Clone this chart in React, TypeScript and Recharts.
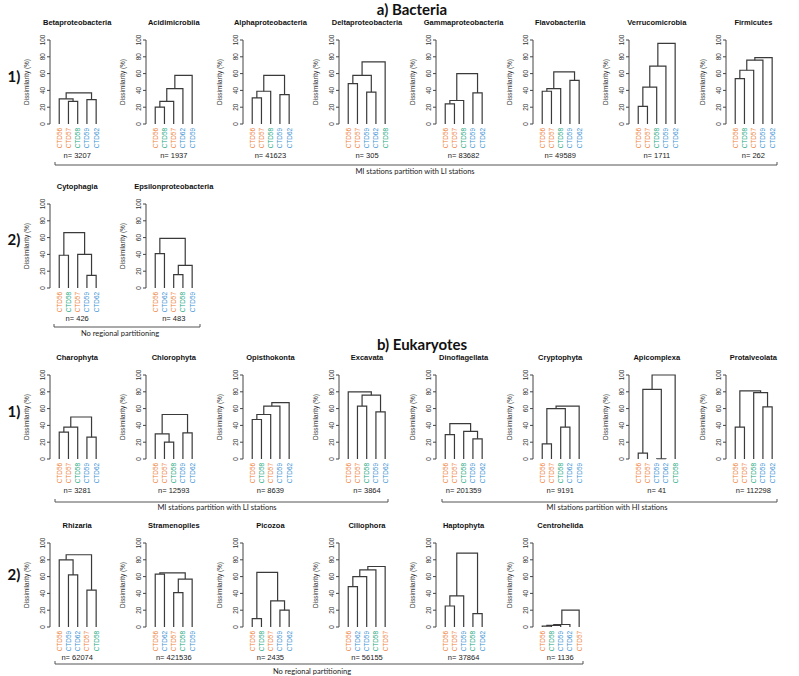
import React from "react";
import { LineChart, Line, XAxis, YAxis, Label } from "recharts";

// panel data, in reading order (bacteria row 1, row 2, eukaryotes row 1, row 2)
const panelTitles = [
  "Betaproteobacteria", "Acidimicrobiia", "Alphaproteobacteria", "Deltaproteobacteria",
  "Gammaproteobacteria", "Flavobacteriia", "Verrucomicrobia", "Firmicutes",
  "Cytophagia", "Epsilonproteobacteria",
  "Charophyta", "Chlorophyta", "Opisthokonta", "Excavata",
  "Dinoflagellata", "Cryptophyta", "Apicomplexa", "Protalveolata",
  "Rhizaria", "Stramenopiles", "Picozoa", "Ciliophora", "Haptophyta", "Centrohelida",
];

const panelCounts = [
  3207, 1937, 41623, 305, 83682, 49589, 1711, 262,
  426, 483,
  3281, 12593, 8639, 3864, 201359, 9191, 41, 112298,
  62074, 421536, 2435, 56155, 37864, 1136,
];

// leaf order, left to right
const panelLeaves = [
  ["CTD56", "CTD57", "CTD58", "CTD59", "CTD62"],
  ["CTD56", "CTD58", "CTD57", "CTD62", "CTD59"],
  ["CTD56", "CTD57", "CTD58", "CTD59", "CTD62"],
  ["CTD56", "CTD57", "CTD59", "CTD62", "CTD58"],
  ["CTD56", "CTD57", "CTD58", "CTD59", "CTD62"],
  ["CTD56", "CTD57", "CTD58", "CTD59", "CTD62"],
  ["CTD56", "CTD57", "CTD58", "CTD59", "CTD62"],
  ["CTD56", "CTD58", "CTD57", "CTD59", "CTD62"],
  ["CTD56", "CTD58", "CTD57", "CTD59", "CTD62"],
  ["CTD56", "CTD62", "CTD57", "CTD58", "CTD59"],
  ["CTD56", "CTD57", "CTD58", "CTD59", "CTD62"],
  ["CTD56", "CTD57", "CTD58", "CTD59", "CTD62"],
  ["CTD56", "CTD58", "CTD57", "CTD59", "CTD62"],
  ["CTD56", "CTD57", "CTD58", "CTD59", "CTD62"],
  ["CTD56", "CTD57", "CTD58", "CTD59", "CTD62"],
  ["CTD56", "CTD57", "CTD58", "CTD62", "CTD59"],
  ["CTD56", "CTD57", "CTD59", "CTD62", "CTD58"],
  ["CTD56", "CTD57", "CTD58", "CTD59", "CTD62"],
  ["CTD56", "CTD59", "CTD62", "CTD57", "CTD58"],
  ["CTD56", "CTD62", "CTD57", "CTD58", "CTD59"],
  ["CTD56", "CTD58", "CTD57", "CTD59", "CTD62"],
  ["CTD56", "CTD62", "CTD59", "CTD58", "CTD57"],
  ["CTD56", "CTD57", "CTD59", "CTD58", "CTD62"],
  ["CTD56", "CTD58", "CTD59", "CTD62", "CTD57"],
];

// hclust-style merges: [left, right, height]; negative = leaf position, positive = earlier merge
const panelMerges = [
  [[-2, -3, 27], [-1, 1, 30], [-4, -5, 29], [2, 3, 37]],
  [[-1, -2, 20], [1, -3, 27], [2, -4, 42], [3, -5, 58]],
  [[-1, -2, 31], [1, -3, 39], [-4, -5, 35], [2, 3, 58]],
  [[-1, -2, 48], [-3, -4, 38], [1, 2, 58], [3, -5, 74]],
  [[-1, -2, 24], [1, -3, 28], [-4, -5, 37], [2, 3, 60]],
  [[-1, -2, 39], [1, -3, 42], [-4, -5, 52], [2, 3, 62]],
  [[-1, -2, 21], [1, -3, 44], [2, -4, 69], [3, -5, 96]],
  [[-1, -2, 54], [1, -3, 64], [2, -4, 76], [3, -5, 79]],
  [[-1, -2, 39], [-4, -5, 15], [-3, 2, 40], [1, 3, 66]],
  [[-1, -2, 41], [-3, -4, 16], [2, -5, 27], [1, 3, 59]],
  [[-1, -2, 32], [1, -3, 38], [-4, -5, 26], [2, 3, 50]],
  [[-2, -3, 20], [-1, 1, 30], [-4, -5, 31], [2, 3, 53]],
  [[-1, -2, 47], [1, -3, 53], [2, -4, 63], [3, -5, 67]],
  [[-2, -3, 63], [-4, -5, 56], [1, 2, 76], [-1, 3, 80]],
  [[-1, -2, 29], [-4, -5, 24], [-3, 2, 33], [1, 3, 42]],
  [[-1, -2, 18], [-3, -4, 38], [1, 2, 60], [3, -5, 63]],
  [[-1, -2, 7], [-3, -4, 0.3], [1, 2, 83], [3, -5, 100]],
  [[-1, -2, 38], [-4, -5, 62], [-3, 2, 79], [1, 3, 81]],
  [[-2, -3, 62], [-1, 1, 80], [-4, -5, 44], [2, 3, 86]],
  [[-1, -2, 63], [-3, -4, 41], [2, -5, 57], [1, 3, 64.5]],
  [[-1, -2, 10], [-4, -5, 20], [-3, 2, 31], [1, 3, 65]],
  [[-1, -2, 48], [1, -3, 60], [2, -4, 68], [3, -5, 72]],
  [[-1, -2, 25], [1, -3, 37], [-4, -5, 16], [2, 3, 88]],
  [[-1, -2, 1], [1, -3, 2], [2, -4, 3], [3, -5, 20]],
];

const yTicks = [0, 20, 40, 60, 80, 100];
const leafTicks = [1, 2, 3, 4, 5];

const STATION_COLORS: Record<string, string> = {
  CTD56: "#f07f3a",
  CTD57: "#f07f3a",
  CTD58: "#22a880",
  CTD59: "#3a92d4",
  CTD62: "#3a92d4",
};

// layout
const PANEL_ROW = [0, 0, 0, 0, 0, 0, 0, 0, 1, 1, 2, 2, 2, 2, 2, 2, 2, 2, 3, 3, 3, 3, 3, 3];
const PANEL_COL = [0, 1, 2, 3, 4, 5, 6, 7, 0, 1, 0, 1, 2, 3, 4, 5, 6, 7, 0, 1, 2, 3, 4, 5];
const ROW_TOP = [40, 203.5, 375, 542.5]; // y of the 100 tick
const COL_X0 = 49.5;
const COL_PITCH = 96.6;
const PLOT_H = 84;
const PLOT_W = 48;
const AXIS_W = 40;
const MARGIN_TOP = 6;
const MARGIN_RIGHT = 8;
const LEAF_STEP = PLOT_W / 5.2;

const SANS = "'Liberation Sans', Arial, sans-serif";
const CAL = "Lato, 'Liberation Sans', sans-serif";
const INK = "#3a3a3a";

function buildSegments(merges: number[][]) {
  const mx: number[] = [];
  const mh: number[] = [];
  const pos = (ref: number) =>
    ref < 0 ? { x: -ref, y: 0 } : { x: mx[ref - 1], y: mh[ref - 1] };
  return merges.map(([a, b, h]) => {
    const l = pos(a);
    const r = pos(b);
    mx.push((l.x + r.x) / 2);
    mh.push(h);
    return [
      { x: l.x, y: l.y },
      { x: l.x, y: h },
      { x: r.x, y: h },
      { x: r.x, y: r.y },
    ];
  });
}

function Dendrogram({ idx }: { idx: number }) {
  const axisX = COL_X0 + PANEL_COL[idx] * COL_PITCH;
  const top = ROW_TOP[PANEL_ROW[idx]];
  const leaves = panelLeaves[idx];
  const segments = buildSegments(panelMerges[idx]);

  const leafTick = (props: any) => {
    const { x, y, payload } = props;
    const name = leaves[Math.round(payload.value) - 1];
    const tx = x + 2.4;
    return (
      <text
        x={tx}
        y={y}
        transform={`rotate(-90 ${tx} ${y})`}
        textAnchor="end"
        fontSize={6.4}
        fontFamily={SANS}
        fill={STATION_COLORS[name]}
      >
        {name}
      </text>
    );
  };

  const yTick = (props: any) => {
    const { x, y, payload } = props;
    return (
      <text
        x={x}
        y={y}
        transform={`rotate(-90 ${x} ${y})`}
        textAnchor="middle"
        fontSize={6.4}
        fontFamily={SANS}
        fill="#333"
      >
        {payload.value}
      </text>
    );
  };

  return (
    <div style={{ position: "absolute", left: axisX - AXIS_W, top: top - MARGIN_TOP }}>
      <LineChart
        width={AXIS_W + PLOT_W + MARGIN_RIGHT}
        height={MARGIN_TOP + PLOT_H + 30}
        margin={{ top: MARGIN_TOP, right: MARGIN_RIGHT, bottom: 0, left: 0 }}
      >
        <XAxis
          type="number"
          dataKey="x"
          domain={[0, 5.2]}
          ticks={leafTicks}
          interval={0}
          axisLine={false}
          tickLine={false}
          tickSize={0}
          tickMargin={4}
          height={30}
          tick={leafTick}
          allowDataOverflow
        />
        <YAxis
          type="number"
          domain={[0, 100]}
          ticks={yTicks}
          interval={0}
          width={AXIS_W}
          tickSize={3}
          tickMargin={2}
          axisLine={{ stroke: "#444" }}
          tickLine={{ stroke: "#444" }}
          tick={yTick}
        >
          <Label
            content={(p: any) => {
              const vb = p.viewBox || {};
              const cx = (vb.x ?? 0) + (vb.width ?? AXIS_W) - 21;
              const cy = (vb.y ?? MARGIN_TOP) + (vb.height ?? PLOT_H) / 2;
              return (
                <text
                  x={cx}
                  y={cy}
                  transform={`rotate(-90 ${cx} ${cy})`}
                  textAnchor="middle"
                  fontSize={6.4}
                  fontFamily={SANS}
                  fill="#333"
                >
                  Dissimilarity (%)
                </text>
              );
            }}
          />
        </YAxis>
        {segments.map((seg, k) => (
          <Line
            key={k}
            data={seg}
            dataKey="y"
            type="linear"
            stroke={INK}
            strokeWidth={1.2}
            dot={false}
            activeDot={false}
            isAnimationActive={false}
          />
        ))}
      </LineChart>
    </div>
  );
}

function Bracket({ x1, x2, y, text, ty, tx }: { x1: number; x2: number; y: number; text: string; ty: number; tx: number }) {
  return (
    <g>
      <path d={`M${x1} ${y - 3} L${x1} ${y} L${x2} ${y} L${x2} ${y - 3}`} fill="none" stroke="#555" strokeWidth={1} />
      <text x={tx} y={ty} textAnchor="middle" dominantBaseline="middle" fontSize={7.5} fontFamily={CAL} fill="#222">
        {text}
      </text>
    </g>
  );
}

export default function App() {
  const rowMarks = [
    { label: "1)", y: 78.5 },
    { label: "2)", y: 241.5 },
    { label: "1)", y: 413 },
    { label: "2)", y: 576 },
  ];
  return (
    <div
      style={{
        position: "absolute",
        left: 0,
        top: 0,
        width: 799,
        height: 676,
        background: "#fff",
        fontFamily: SANS,
        overflow: "hidden",
      }}
    >
      {panelTitles.map((_, i) => (
        <Dendrogram key={i} idx={i} />
      ))}
      <svg
        width={799}
        height={676}
        style={{ position: "absolute", left: 0, top: 0, pointerEvents: "none" }}
      >
        <text x={412} y={15} textAnchor="middle" fontSize={15} fontWeight={700} fontFamily={CAL} fill="#111">
          a) Bacteria
        </text>
        <text x={422} y={350} textAnchor="middle" fontSize={15} fontWeight={700} fontFamily={CAL} fill="#111">
          b) Eukaryotes
        </text>
        {rowMarks.map((m, i) => (
          <text key={i} x={14} y={m.y} textAnchor="middle" dominantBaseline="middle" fontSize={15} fontWeight={700} fontFamily={CAL} fill="#111">
            {m.label}
          </text>
        ))}
        {panelTitles.map((t, i) => {
          const cx = COL_X0 + PANEL_COL[i] * COL_PITCH + 3 * LEAF_STEP;
          const top = ROW_TOP[PANEL_ROW[i]];
          return (
            <g key={i}>
              <text x={cx} y={top - 16.5} textAnchor="middle" dominantBaseline="middle" fontSize={7.5} fontWeight={700} fontFamily={SANS} fill="#111">
                {t}
              </text>
              <text x={cx} y={top + PLOT_H + 32} textAnchor="middle" dominantBaseline="middle" fontSize={7.5} fontFamily={SANS} fill="#222">
                {`n= ${panelCounts[i]}`}
              </text>
            </g>
          );
        })}
        <Bracket x1={55} x2={777} y={165} tx={415} ty={172.5} text="MI stations partition with LI stations" />
        <Bracket x1={54} x2={200} y={327} tx={120} ty={334.5} text="No regional partitioning" />
        <Bracket x1={55} x2={388} y={502} tx={217} ty={508} text="MI stations partition with LI stations" />
        <Bracket x1={442} x2={777} y={502} tx={607} ty={508} text="MI stations partition with HI stations" />
        <Bracket x1={55} x2={583} y={664} tx={312} ty={672} text="No regional partitioning" />
      </svg>
    </div>
  );
}
